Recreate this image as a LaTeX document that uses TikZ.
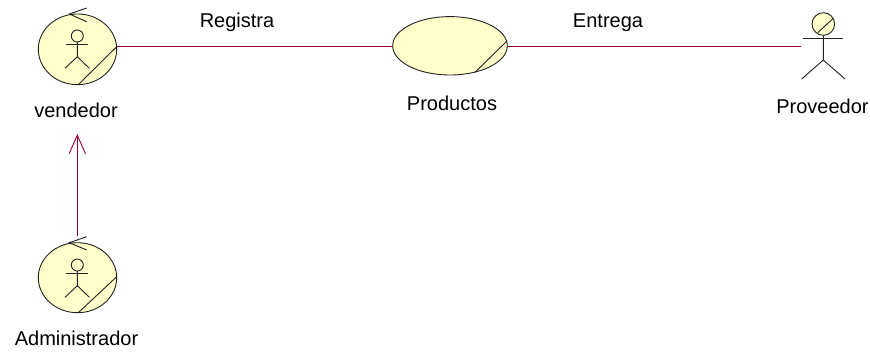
\documentclass[tikz,border=0pt]{standalone}
\usepackage{fontspec}
\setmainfont{Liberation Sans}
\usetikzlibrary{shapes.geometric,arrows.meta}
\definecolor{ucfill}{HTML}{FFFFCC}
\definecolor{assoc}{HTML}{990033}
\definecolor{ink}{HTML}{222222}
\tikzset{
  x=1pt,y=-1pt,
  ucase/.style={draw=ink,fill=ucfill,ellipse,line width=0.9pt,inner sep=0pt,outer sep=0pt},
  stroke/.style={draw=ink,line width=0.9pt},
  assocline/.style={draw=assoc,line width=0.9pt},
  lbl/.style={font=\fontsize{20}{22}\selectfont,text=black,inner sep=0pt,anchor=base},
}
\newcommand{\stickman}[2]{% x, head y
  \begin{scope}[shift={(#1,#2)}]
    \draw[stroke] (0,0) circle[radius=6pt];
    \draw[stroke] (-11.3,8.7) -- (11,8.7);
    \draw[stroke] (0,6) -- (0,20.7) (-12.3,32.3) -- (0,20.7) -- (12,32.3);
  \end{scope}}
\begin{document}
\begin{tikzpicture}
\useasboundingbox (0,0) rectangle (870,351);
\fill[white] (0,0) rectangle (870,351);
% anchors of the connectors
\coordinate (venR) at (116.7,46);
\coordinate (prodL) at (392.7,46);
\coordinate (prodR) at (507.3,46);
\coordinate (provL) at (801,46);
\coordinate (admT) at (77.3,236);
\coordinate (venB) at (77.3,134);
% connectors
\draw[assocline] (venR) -- (prodL);
\draw[assocline] (prodR) -- (provL);
\draw[assocline,-{Straight Barb[length=18.7pt,width=16.4pt]}] (admT) -- (venB);
% vendedor
\node[ucase,minimum width=78.4pt,minimum height=70.7pt] (ven) at (77.5,49.3) {};
\draw[stroke] (116.7,46.7) -- (78.3,84.7);
\draw[stroke] (86.7,8) -- (69.3,14) -- (86.7,21.7);
\stickman{77.3}{36}
\node[lbl] (venl) at (76,117) {vendedor};
% administrador
\node[ucase,minimum width=78.4pt,minimum height=70pt] (adm) at (77.5,277.7) {};
\draw[stroke] (116.7,276.7) -- (78.3,312.7);
\draw[stroke] (86.7,236.7) -- (69.3,242.7) -- (86.7,250);
\stickman{77.3}{265}
\node[lbl] (adml) at (76.5,345) {Administrador};
% productos
\node[ucase,minimum width=114.6pt,minimum height=58.4pt] (prod) at (450,45.8) {};
\draw[stroke] (507.3,40.7) -- (475,72.3);
\node[lbl] (prodl) at (452,110) {Productos};
% proveedor
\node[draw=ink,fill=ucfill,circle,line width=0.9pt,inner sep=0pt,minimum size=22.6pt] (prov) at (823.3,24) {};
\draw[stroke] (833.3,18.3) -- (817.7,32.7);
\draw[stroke] (803.3,38.3) -- (842.7,38.3);
\draw[stroke] (prov.south) -- (823.3,60) (801.7,79) -- (823.3,60) -- (845,79);
\node[lbl] (provl) at (822.5,113) {Proveedor};
% labels
\node[lbl] (reg) at (237,27) {Registra};
\node[lbl] (ent) at (608,27) {Entrega};
\end{tikzpicture}
\end{document}
